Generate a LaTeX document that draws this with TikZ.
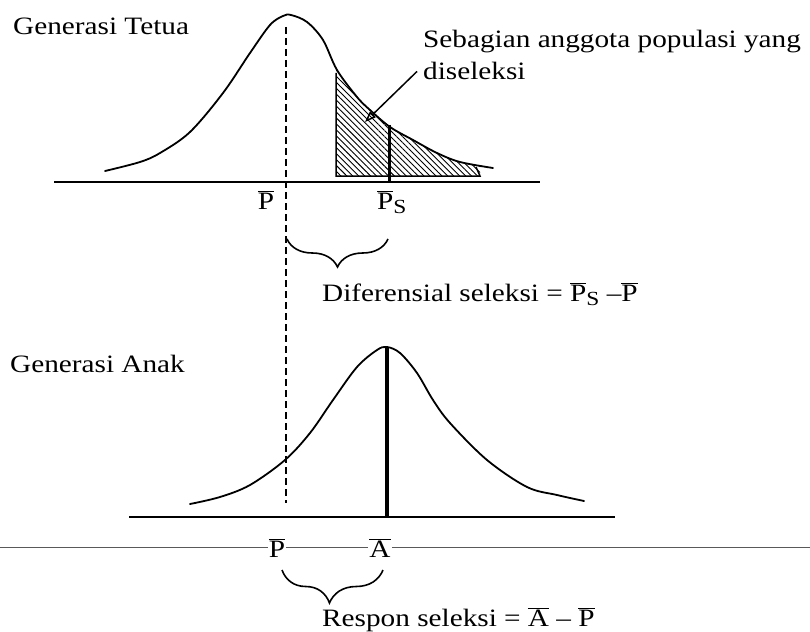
\documentclass[tikz,border=0pt]{standalone}
\usepackage{fontspec}
\setmainfont[FakeStretch=1.17]{Liberation Serif}
\usetikzlibrary{arrows.meta,patterns.meta,decorations.pathreplacing}
\newcommand\obar[1]{$\overline{\mbox{#1}}$}
\newcommand\subS{\raisebox{-4pt}{\fontsize{20}{20}\selectfont S}}
\begin{document}
\begin{tikzpicture}[x=1pt,y=-1pt,
  lbl/.style={inner sep=0pt, anchor=base west, font=\fontsize{25}{32}\selectfont},
  curve/.style={line width=1.8pt, line join=round, line cap=round},
  axisline/.style={line width=2.4pt},
  meanline/.style={line width=3pt},
  dashline/.style={line width=1.8pt, dash pattern=on 7pt off 4pt},
  bracepath/.style={line width=1.6pt, decorate, decoration={brace, mirror, amplitude=#1}},
  pointer/.style={line width=1.5pt, -{Triangle[open, length=11pt, width=8pt]}},
  hatch/.style={pattern={Lines[angle=-45, distance=4.2pt, line width=0.9pt]}},
  graybar/.style={line width=0.9pt, draw=black!65}
]
\useasboundingbox (0,0) rectangle (810,631);

% ---------- top (parent generation) ----------
\coordinate (ax1l) at (54,182);
\coordinate (ax1r) at (540,182);
\begin{scope}
  \clip (336,0) rectangle (480,176);
  \fill[hatch] plot[smooth, tension=0.55] coordinates {(105,171) (140,162) (160,153) (190,132) (223,93) (250,53) (270,25) (283,16) (291,15) (307,22) (323,40) (337,70) (357,97) (370,110) (390,127) (413,140) (437,153) (460,162) (493,168)} -- (493,182) -- (105,182) -- cycle;
\end{scope}
\coordinate (h1) at (336,73);
\coordinate (h2) at (336,176);
\coordinate (h3) at (480,176);
\coordinate (h4) at (476,167);
\draw[line width=1.5pt] (h1) -- (h2) -- (h3) -- (h4);
\draw[curve] plot[smooth, tension=0.55] coordinates {(105,171) (140,162) (160,153) (190,132) (223,93) (250,53) (270,25) (283,16) (291,15) (307,22) (323,40) (337,70) (357,97) (370,110) (390,127) (413,140) (437,153) (460,162) (493,168)};
\draw[axisline] (ax1l) -- (ax1r);
\coordinate (ps1) at (389,125);
\coordinate (ps2) at (389,182);
\draw[meanline] (ps1) -- (ps2);

% dashed mean line of parents
\coordinate (d1) at (286,27);
\coordinate (d2) at (286,503);
\draw[dashline] (d1) -- (d2);

\node[lbl] (gt) at (13,35) {Generasi Tetua};
\node[lbl] (sel1) at (423,48) {Sebagian anggota populasi yang};
\node[lbl] (sel2) at (423,80) {diseleksi};
\coordinate (tip) at (365,122);
\draw[pointer] ([xshift=-6pt]sel2.west) -- (tip);

\node[lbl, anchor=base] (pbar1) at (266,209) {\obar{P}};
\node[lbl] (psbar) at (377,209) {\obar{P}\subS};

\coordinate (b1l) at (287,239);
\coordinate (b1r) at (388,239);
\draw[bracepath=28pt] (b1l) -- (b1r);
\node[lbl] (dif) at (322,301) {Diferensial seleksi = \obar{P}\subS{} –\obar{P}};

% ---------- bottom (offspring generation) ----------
\node[lbl] (ga) at (10,372) {Generasi Anak};
\coordinate (ax2l) at (129,517);
\coordinate (ax2r) at (615,517);
\draw[curve] plot[smooth, tension=0.55] coordinates {(190,504) (220,497) (250,485) (285,460) (310,433) (333,400) (357,367) (377,350) (387,347) (400,353) (417,373) (433,400) (450,423) (487,460) (527,487) (557,495) (584,501)};
\draw[axisline] (ax2l) -- (ax2r);
\coordinate (a1) at (387,347);
\coordinate (a2) at (387,517);
\draw[line width=3.4pt] (a1) -- (a2);

\coordinate (g1) at (0,547);
\coordinate (g2) at (810,547);
\draw[graybar] (g1) -- (g2);
\node[lbl, anchor=base, fill=white, inner sep=1pt] (pbar2) at (277,557) {\obar{P}};
\node[lbl, anchor=base, fill=white, inner sep=1pt] (abar) at (380,557) {\obar{A}};

\coordinate (b2l) at (282,570);
\coordinate (b2r) at (383,570);
\draw[bracepath=33pt, decoration={aspect=0.47}] (b2l) -- (b2r);
\node[lbl] (resp) at (322,626) {Respon seleksi = \obar{A} – \obar{P}};
\end{tikzpicture}
\end{document}
